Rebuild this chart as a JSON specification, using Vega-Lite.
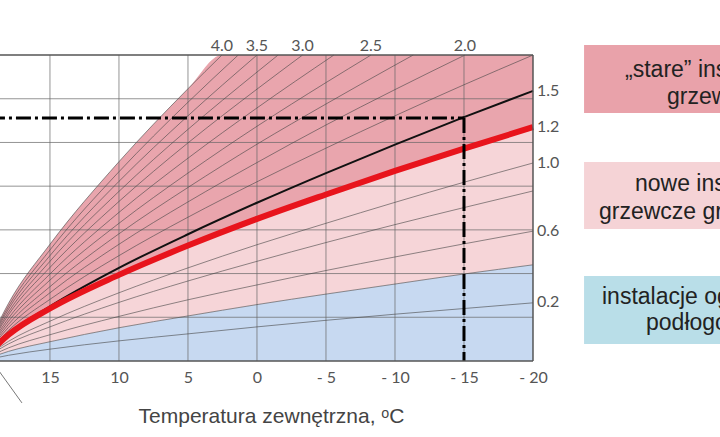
{
  "$schema": "https://vega.github.io/schema/vega-lite/v6.json",
  "width": 720,
  "height": 437,
  "padding": 0,
  "autosize": "none",
  "background": "white",
  "config": {"view": {"stroke": null}, "font": "Liberation Sans"},
  "datasets": {
    "grid": [
      {"x": 15, "x2": 15, "y": 20, "y2": 90},
      {"x": 10, "x2": 10, "y": 20, "y2": 90},
      {"x": 5, "x2": 5, "y": 20, "y2": 90},
      {"x": 0, "x2": 0, "y": 20, "y2": 90},
      {"x": -5, "x2": -5, "y": 20, "y2": 90},
      {"x": -10, "x2": -10, "y": 20, "y2": 90},
      {"x": -15, "x2": -15, "y": 20, "y2": 90},
      {"x": 25, "x2": -20, "y": 30, "y2": 30},
      {"x": 25, "x2": -20, "y": 40, "y2": 40},
      {"x": 25, "x2": -20, "y": 50, "y2": 50},
      {"x": 25, "x2": -20, "y": 60, "y2": 60},
      {"x": 25, "x2": -20, "y": 70, "y2": 70},
      {"x": 25, "x2": -20, "y": 80, "y2": 80}
    ],
    "frame": [
      {"x": 25, "x2": -20, "y": 90, "y2": 90},
      {"x": 25, "x2": -20, "y": 20, "y2": 20},
      {"x": -20, "x2": -20, "y": 20, "y2": 90}
    ],
    "dash": [
      {"x": 25, "x2": -15, "y": 75.6, "y2": 75.6},
      {"x": -15, "x2": -15, "y": 75.6, "y2": 20}
    ],
    "leader": [
      {"x": 18.76, "x2": 17.03, "y": 18.0, "y2": 10.4}
    ],
    "curves": [
      {"s": "0.2", "x": 20, "y": 20}, {"s": "0.2", "x": 18, "y": 21.3}, {"s": "0.2", "x": 15, "y": 22.7}, {"s": "0.2", "x": 10, "y": 24.6}, {"s": "0.2", "x": 5, "y": 26.2}, {"s": "0.2", "x": 0, "y": 27.8}, {"s": "0.2", "x": -5, "y": 29.3}, {"s": "0.2", "x": -10, "y": 30.7}, {"s": "0.2", "x": -15, "y": 32.0}, {"s": "0.2", "x": -20, "y": 33.3},
      {"s": "0.4", "x": 20, "y": 20}, {"s": "0.4", "x": 18, "y": 22.2}, {"s": "0.4", "x": 15, "y": 24.4}, {"s": "0.4", "x": 10, "y": 27.6}, {"s": "0.4", "x": 5, "y": 30.3}, {"s": "0.4", "x": 0, "y": 32.9}, {"s": "0.4", "x": -5, "y": 35.3}, {"s": "0.4", "x": -10, "y": 37.6}, {"s": "0.4", "x": -15, "y": 39.9}, {"s": "0.4", "x": -20, "y": 42.0},
      {"s": "0.6", "x": 20, "y": 20}, {"s": "0.6", "x": 18, "y": 23.0}, {"s": "0.6", "x": 15, "y": 26.0}, {"s": "0.6", "x": 10, "y": 30.2}, {"s": "0.6", "x": 5, "y": 34.0}, {"s": "0.6", "x": 0, "y": 37.4}, {"s": "0.6", "x": -5, "y": 40.7}, {"s": "0.6", "x": -10, "y": 43.8}, {"s": "0.6", "x": -15, "y": 46.8}, {"s": "0.6", "x": -20, "y": 49.7},
      {"s": "0.8", "x": 20, "y": 20}, {"s": "0.8", "x": 18, "y": 23.9}, {"s": "0.8", "x": 15, "y": 27.8}, {"s": "0.8", "x": 10, "y": 33.4}, {"s": "0.8", "x": 5, "y": 38.3}, {"s": "0.8", "x": 0, "y": 42.8}, {"s": "0.8", "x": -5, "y": 47.1}, {"s": "0.8", "x": -10, "y": 51.2}, {"s": "0.8", "x": -15, "y": 55.1}, {"s": "0.8", "x": -20, "y": 58.9},
      {"s": "1.0", "x": 20, "y": 20}, {"s": "1.0", "x": 18, "y": 24.5}, {"s": "1.0", "x": 15, "y": 29.1}, {"s": "1.0", "x": 10, "y": 35.6}, {"s": "1.0", "x": 5, "y": 41.3}, {"s": "1.0", "x": 0, "y": 46.6}, {"s": "1.0", "x": -5, "y": 51.5}, {"s": "1.0", "x": -10, "y": 56.3}, {"s": "1.0", "x": -15, "y": 60.9}, {"s": "1.0", "x": -20, "y": 65.3},
      {"s": "1.8", "x": 20, "y": 20}, {"s": "1.8", "x": 18, "y": 27.0}, {"s": "1.8", "x": 15, "y": 34.1}, {"s": "1.8", "x": 10, "y": 44.1}, {"s": "1.8", "x": 5, "y": 52.9}, {"s": "1.8", "x": 0, "y": 61.0}, {"s": "1.8", "x": -5, "y": 68.7}, {"s": "1.8", "x": -10, "y": 76.1}, {"s": "1.8", "x": -15, "y": 83.2}, {"s": "1.8", "x": -20, "y": 90.0},
      {"s": "2.0", "x": 20, "y": 20}, {"s": "2.0", "x": 18, "y": 27.7}, {"s": "2.0", "x": 15, "y": 35.6}, {"s": "2.0", "x": 10, "y": 46.7}, {"s": "2.0", "x": 5, "y": 56.4}, {"s": "2.0", "x": 0, "y": 65.4}, {"s": "2.0", "x": -5, "y": 74.0}, {"s": "2.0", "x": -10, "y": 82.1}, {"s": "2.0", "x": -15.07, "y": 90},
      {"s": "2.25", "x": 20, "y": 20}, {"s": "2.25", "x": 18, "y": 28.4}, {"s": "2.25", "x": 15, "y": 37.0}, {"s": "2.25", "x": 10, "y": 49.1}, {"s": "2.25", "x": 5, "y": 59.7}, {"s": "2.25", "x": 0, "y": 69.6}, {"s": "2.25", "x": -5, "y": 78.8}, {"s": "2.25", "x": -10, "y": 87.7}, {"s": "2.25", "x": -11.32, "y": 90},
      {"s": "2.5", "x": 20, "y": 20}, {"s": "2.5", "x": 18, "y": 29.1}, {"s": "2.5", "x": 15, "y": 38.5}, {"s": "2.5", "x": 10, "y": 51.5}, {"s": "2.5", "x": 5, "y": 63.0}, {"s": "2.5", "x": 0, "y": 73.7}, {"s": "2.5", "x": -5, "y": 83.7}, {"s": "2.5", "x": -8.26, "y": 90},
      {"s": "2.75", "x": 20, "y": 20}, {"s": "2.75", "x": 18, "y": 29.8}, {"s": "2.75", "x": 15, "y": 39.9}, {"s": "2.75", "x": 10, "y": 54.0}, {"s": "2.75", "x": 5, "y": 66.4}, {"s": "2.75", "x": 0, "y": 77.9}, {"s": "2.75", "x": -5.57, "y": 90},
      {"s": "3.0", "x": 20, "y": 20}, {"s": "3.0", "x": 18, "y": 30.6}, {"s": "3.0", "x": 15, "y": 41.4}, {"s": "3.0", "x": 10, "y": 56.5}, {"s": "3.0", "x": 5, "y": 69.9}, {"s": "3.0", "x": 0, "y": 82.2}, {"s": "3.0", "x": -3.3, "y": 90},
      {"s": "3.25", "x": 20, "y": 20}, {"s": "3.25", "x": 18, "y": 31.2}, {"s": "3.25", "x": 15, "y": 42.8}, {"s": "3.25", "x": 10, "y": 58.8}, {"s": "3.25", "x": 5, "y": 73.0}, {"s": "3.25", "x": 0, "y": 86.1}, {"s": "3.25", "x": -1.53, "y": 90},
      {"s": "3.5", "x": 20, "y": 20}, {"s": "3.5", "x": 18, "y": 31.9}, {"s": "3.5", "x": 15, "y": 44.1}, {"s": "3.5", "x": 10, "y": 61.1}, {"s": "3.5", "x": 5, "y": 76.1}, {"s": "3.5", "x": 0, "y": 90},
      {"s": "3.75", "x": 20, "y": 20}, {"s": "3.75", "x": 18, "y": 32.5}, {"s": "3.75", "x": 15, "y": 45.4}, {"s": "3.75", "x": 10, "y": 63.3}, {"s": "3.75", "x": 5, "y": 79.2}, {"s": "3.75", "x": 1.36, "y": 90},
      {"s": "4.0", "x": 20, "y": 20}, {"s": "4.0", "x": 18, "y": 33.2}, {"s": "4.0", "x": 15, "y": 46.7}, {"s": "4.0", "x": 10, "y": 65.6}, {"s": "4.0", "x": 5, "y": 82.3}, {"s": "4.0", "x": 2.54, "y": 90}
    ],
    "black": [
      {"x": 20, "y": 20}, {"x": 18, "y": 26.2}, {"x": 15, "y": 32.5}, {"x": 10, "y": 41.3}, {"x": 5, "y": 49.0}, {"x": 0, "y": 56.2}, {"x": -5, "y": 63.0}, {"x": -10, "y": 69.5}, {"x": -15, "y": 75.8}, {"x": -20, "y": 81.8}
    ],
    "red": [
      {"x": 20, "y": 20}, {"x": 18, "y": 26.0}, {"x": 15, "y": 32.0}, {"x": 10, "y": 39.7}, {"x": 5, "y": 46.4}, {"x": 0, "y": 52.5}, {"x": -5, "y": 58.1}, {"x": -10, "y": 63.5}, {"x": -15, "y": 68.6}, {"x": -20, "y": 73.5}
    ],
    "bands": [
      {"b": "blue", "x": 20, "y": 20, "y2": 20}, {"b": "blue", "x": 18, "y": 22.2, "y2": 20}, {"b": "blue", "x": 15, "y": 24.4, "y2": 20}, {"b": "blue", "x": 10, "y": 27.6, "y2": 20}, {"b": "blue", "x": 5, "y": 30.3, "y2": 20}, {"b": "blue", "x": 0, "y": 32.9, "y2": 20}, {"b": "blue", "x": -5, "y": 35.3, "y2": 20}, {"b": "blue", "x": -10, "y": 37.6, "y2": 20}, {"b": "blue", "x": -15, "y": 39.9, "y2": 20}, {"b": "blue", "x": -20, "y": 42.0, "y2": 20},
      {"b": "light", "x": 20, "y": 20, "y2": 20}, {"b": "light", "x": 18, "y": 26.0, "y2": 22.2}, {"b": "light", "x": 15, "y": 32.0, "y2": 24.4}, {"b": "light", "x": 10, "y": 39.7, "y2": 27.6}, {"b": "light", "x": 5, "y": 46.4, "y2": 30.3}, {"b": "light", "x": 0, "y": 52.5, "y2": 32.9}, {"b": "light", "x": -5, "y": 58.1, "y2": 35.3}, {"b": "light", "x": -10, "y": 63.5, "y2": 37.6}, {"b": "light", "x": -15, "y": 68.6, "y2": 39.9}, {"b": "light", "x": -20, "y": 73.5, "y2": 42.0},
      {"b": "dark", "x": 20, "y": 20, "y2": 20}, {"b": "dark", "x": 18, "y": 26.0, "y2": 33.2}, {"b": "dark", "x": 15, "y": 32.0, "y2": 46.7}, {"b": "dark", "x": 10, "y": 39.7, "y2": 65.6}, {"b": "dark", "x": 5, "y": 46.4, "y2": 82.3}, {"b": "dark", "x": 2.54, "y": 49.5, "y2": 90}, {"b": "dark", "x": 0, "y": 52.5, "y2": 90}, {"b": "dark", "x": -5, "y": 58.1, "y2": 90}, {"b": "dark", "x": -10, "y": 63.5, "y2": 90}, {"b": "dark", "x": -15, "y": 68.6, "y2": 90}, {"b": "dark", "x": -20, "y": 73.5, "y2": 90}
    ],
    "toplabels": [
      {"x": 2.54, "y": 92.1, "label": "4.0"},
      {"x": 0, "y": 92.1, "label": "3.5"},
      {"x": -3.3, "y": 92.1, "label": "3.0"},
      {"x": -8.26, "y": 92.1, "label": "2.5"},
      {"x": -15.07, "y": 92.1, "label": "2.0"}
    ],
    "rightlabels": [
      {"x": -20.29, "y": 81.8, "label": "1.5"},
      {"x": -20.29, "y": 73.5, "label": "1.2"},
      {"x": -20.29, "y": 65.3, "label": "1.0"},
      {"x": -20.29, "y": 49.7, "label": "0.6"},
      {"x": -20.29, "y": 33.5, "label": "0.2"}
    ],
    "boxes": [
      {"b": "stare", "x": -23.7, "x2": -45, "y": 92.31, "y2": 76.75},
      {"b": "nowe", "x": -23.7, "x2": -45, "y": 65.54, "y2": 50.21},
      {"b": "podl", "x": -23.7, "x2": -45, "y": 39.45, "y2": 23.89}
    ],
    "boxtext": [
      {"x": -26.67, "y": 86.6, "label": "„stare” instalacje"},
      {"x": -29.71, "y": 80.4, "label": "grzewcze"},
      {"x": -27.39, "y": 60.5, "label": "nowe instalacje"},
      {"x": -24.78, "y": 54.1, "label": "grzewcze grzejnikowe"},
      {"x": -25.0, "y": 34.65, "label": "instalacje ogrzewania"},
      {"x": -28.19, "y": 28.7, "label": "podłogowego"}
    ]
  },
  "encoding": {
    "x": {
      "field": "x",
      "type": "quantitative",
      "scale": {"domain": [18.62, -33.55], "nice": false, "zero": false},
      "axis": {
        "values": [15, 10, 5, 0, -5, -10, -15, -20],
        "offset": -76,
        "domain": false,
        "ticks": false,
        "grid": false,
        "labelExpr": "datum.value < 0 ? '- ' + (-datum.value) + ' ' : '' + datum.value",
        "labelFont": "Lato",
        "labelFontSize": 16,
        "labelColor": "#555555",
        "labelBaseline": "middle",
        "labelPadding": 16,
        "labelFlush": false,
        "labelOverlap": false,
        "title": "Temperatura zewnętrzna, ᵒC",
        "titleFont": "Liberation Sans",
        "titleFontSize": 21,
        "titleFontWeight": "normal",
        "titleColor": "#444444",
        "titleX": 271,
        "titleY": 61,
        "titleAlign": "center",
        "titleBaseline": "alphabetic"
      }
    },
    "y": {
      "field": "y",
      "type": "quantitative",
      "scale": {"domain": [2.6, 102.6], "nice": false, "zero": false},
      "axis": null
    }
  },
  "layer": [
    {
      "data": {"name": "bands"},
      "mark": {"type": "area", "interpolate": "monotone"},
      "encoding": {
        "y": {"field": "y", "type": "quantitative", "stack": null, "scale": {"domain": [2.6, 102.6], "nice": false, "zero": false}, "axis": null},
        "y2": {"field": "y2"},
        "color": {"field": "b", "type": "nominal", "scale": {"domain": ["blue", "light", "dark"], "range": ["#c7d9f1", "#f6d5d8", "#e9a5ad"]}, "legend": null}
      }
    },
    {
      "data": {"name": "grid"},
      "mark": {"type": "rule", "color": "#666666", "strokeWidth": 1, "opacity": 0.7},
      "encoding": {"x2": {"field": "x2"}, "y2": {"field": "y2"}}
    },
    {
      "data": {"name": "curves"},
      "mark": {"type": "line", "interpolate": "monotone", "color": "#444444", "strokeWidth": 0.7, "opacity": 0.85},
      "encoding": {"detail": {"field": "s", "type": "nominal"}}
    },
    {
      "data": {"name": "black"},
      "mark": {"type": "line", "interpolate": "monotone", "color": "#111111", "strokeWidth": 2},
      "encoding": {}
    },
    {
      "data": {"name": "red"},
      "mark": {"type": "line", "interpolate": "monotone", "color": "#e8141c", "strokeWidth": 6},
      "encoding": {}
    },
    {
      "data": {"name": "dash"},
      "mark": {"type": "rule", "color": "#000000", "strokeWidth": 3, "strokeDash": [15, 4, 3, 4]},
      "encoding": {"x2": {"field": "x2"}, "y2": {"field": "y2"}}
    },
    {
      "data": {"name": "frame"},
      "mark": {"type": "rule", "color": "#555555", "strokeWidth": 1.5},
      "encoding": {"x2": {"field": "x2"}, "y2": {"field": "y2"}}
    },
    {
      "data": {"name": "leader"},
      "mark": {"type": "rule", "color": "#777777", "strokeWidth": 1},
      "encoding": {"x2": {"field": "x2"}, "y2": {"field": "y2"}}
    },
    {
      "data": {"name": "toplabels"},
      "mark": {"type": "text", "font": "Lato", "fontSize": 16, "color": "#555555", "align": "center", "baseline": "middle"},
      "encoding": {"text": {"field": "label"}}
    },
    {
      "data": {"name": "rightlabels"},
      "mark": {"type": "text", "font": "Lato", "fontSize": 16, "color": "#555555", "align": "left", "baseline": "middle"},
      "encoding": {"text": {"field": "label"}}
    },
    {
      "data": {"name": "boxes"},
      "mark": {"type": "rect"},
      "encoding": {
        "x2": {"field": "x2"},
        "y2": {"field": "y2"},
        "fill": {"field": "b", "type": "nominal", "scale": {"domain": ["stare", "nowe", "podl"], "range": ["#e9a2aa", "#f5d3d6", "#b9dee8"]}, "legend": null}
      }
    },
    {
      "data": {"name": "boxtext"},
      "mark": {"type": "text", "font": "Liberation Sans", "fontSize": 23, "color": "#222222", "align": "left", "baseline": "middle"},
      "encoding": {"text": {"field": "label"}}
    }
  ]
}
